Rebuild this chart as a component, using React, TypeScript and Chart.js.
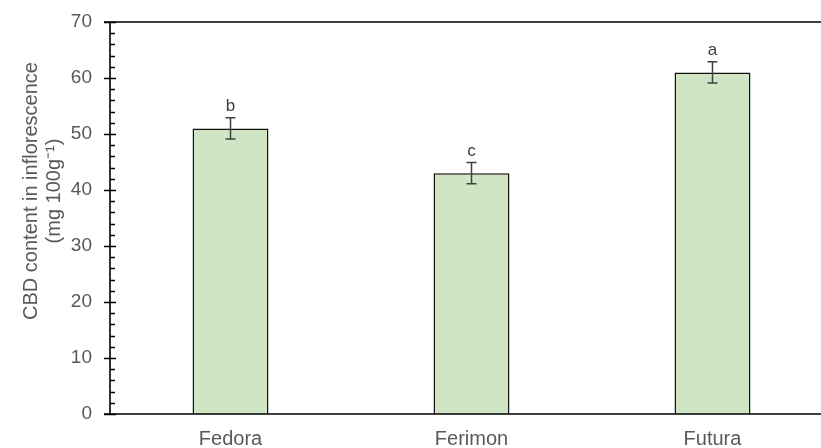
import React, { useEffect, useRef } from "react";
import { Chart, registerables } from "chart.js";

Chart.register(...registerables);

const categories = ["Fedora", "Ferimon", "Futura"];
const cbdValues = [51, 43, 61];
const errorValues = [1.9, 1.9, 1.9];
const groupLetters = ["b", "c", "a"];
const yTicks = [0, 10, 20, 30, 40, 50, 60, 70];
const yTitleLines = ["CBD content in inflorescence", "(mg 100g\u207B\u00B9)"];

const FONT = "'Liberation Sans', Arial, Helvetica, sans-serif";
const GRAY = "#595959";

const decorPlugin = {
  id: "decor",
  afterDraw(chart: any) {
    const { ctx, chartArea } = chart;
    const x = chart.scales.x;
    const y = chart.scales.y;
    const { left, top, bottom } = chartArea;
    ctx.save();
    ctx.strokeStyle = "#000";
    ctx.lineWidth = 1.6;
    ctx.beginPath();
    ctx.moveTo(left - 6, top);
    ctx.lineTo(chart.width, top);
    ctx.moveTo(left - 6, bottom);
    ctx.lineTo(chart.width, bottom);
    ctx.moveTo(left, top);
    ctx.lineTo(left, bottom);
    ctx.stroke();
    ctx.lineWidth = 1.4;
    const maxV = yTicks[yTicks.length - 1];
    ctx.beginPath();
    for (let v = 0; v <= maxV; v += 2) {
      const py = Math.round(y.getPixelForValue(v)) + 0.5;
      if (v % 10 === 0) {
        ctx.moveTo(left - 6, py);
        ctx.lineTo(left + 6, py);
      } else {
        ctx.moveTo(left, py);
        ctx.lineTo(left + 5, py);
      }
    }
    ctx.stroke();
    ctx.strokeStyle = "#404040";
    ctx.lineWidth = 1.5;
    ctx.fillStyle = "#404040";
    ctx.font = `17px ${FONT}`;
    ctx.textAlign = "center";
    ctx.textBaseline = "bottom";
    cbdValues.forEach((v, i) => {
      const px = x.getPixelForValue(i);
      const yt = y.getPixelForValue(v + errorValues[i]);
      const yb = y.getPixelForValue(v - errorValues[i]);
      ctx.beginPath();
      ctx.moveTo(px, yt);
      ctx.lineTo(px, yb);
      ctx.moveTo(px - 5, yt);
      ctx.lineTo(px + 5, yt);
      ctx.moveTo(px - 5, yb);
      ctx.lineTo(px + 5, yb);
      ctx.stroke();
      ctx.fillText(groupLetters[i], px, yt - 3);
    });
    ctx.fillStyle = GRAY;
    ctx.font = `20px ${FONT}`;
    ctx.textBaseline = "middle";
    const cy = 191;
    [31, 54].forEach((cx, k) => {
      ctx.save();
      ctx.translate(cx, cy);
      ctx.rotate(-Math.PI / 2);
      ctx.fillText(yTitleLines[k], 0, 0);
      ctx.restore();
    });
    ctx.restore();
  },
};

export default function App() {
  const ref = useRef<HTMLCanvasElement | null>(null);
  useEffect(() => {
    if (!ref.current) return;
    const chart = new Chart(ref.current, {
      type: "bar",
      data: {
        labels: categories,
        datasets: [
          {
            data: cbdValues,
            backgroundColor: "#cfe5c3",
            borderColor: "#111",
            borderWidth: 1.5,
            barPercentage: 0.315,
            categoryPercentage: 1,
          },
        ],
      },
      options: {
        responsive: false,
        animation: false,
        devicePixelRatio: 1,
        layout: { padding: { top: 22, right: 7, bottom: 0, left: 0 } },
        plugins: { legend: { display: false }, tooltip: { enabled: false } },
        scales: {
          x: {
            afterFit: (s: any) => {
              s.height = 34;
              s.paddingLeft = 0;
              s.paddingRight = 0;
            },
            grid: { display: false, drawTicks: false },
            border: { display: false },
            ticks: { color: GRAY, font: { family: FONT, size: 20 }, padding: 13 },
          },
          y: {
            min: 0,
            max: yTicks[yTicks.length - 1],
            afterBuildTicks: (s: any) => {
              s.ticks = yTicks.map((v) => ({ value: v }));
            },
            afterFit: (s: any) => {
              s.width = 110;
              s.paddingTop = 0;
              s.paddingBottom = 0;
            },
            grid: { display: false, drawTicks: false },
            border: { display: false },
            ticks: { color: GRAY, font: { family: FONT, size: 19 }, padding: 18 },
          },
        },
      },
      plugins: [decorPlugin],
    });
    return () => chart.destroy();
  }, []);
  return (
    <div style={{ position: "fixed", left: 0, top: 0, width: 821, height: 448, overflow: "hidden", background: "#fff" }}>
      <canvas ref={ref} width={840} height={448} style={{ display: "block" }} />
    </div>
  );
}
